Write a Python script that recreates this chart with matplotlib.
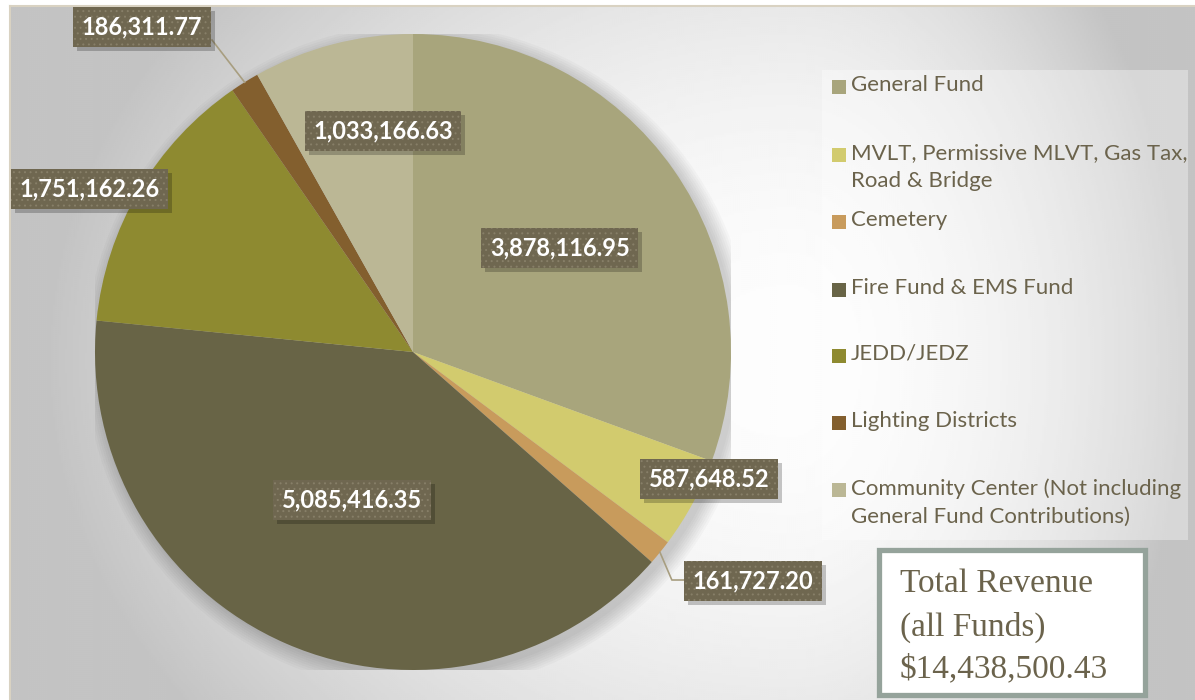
import numpy as np
import matplotlib.pyplot as plt
from matplotlib.patches import Rectangle, Circle
from matplotlib.transforms import IdentityTransform

funds = ['General Fund',
         'MVLT, Permissive MLVT, Gas Tax,\nRoad & Bridge',
         'Cemetery',
         'Fire Fund & EMS Fund',
         'JEDD/JEDZ',
         'Lighting Districts',
         'Community Center (Not including\nGeneral Fund Contributions)']
revenue = [3878116.95, 587648.52, 161727.20, 5085416.35, 1751162.26, 186311.77, 1033166.63]
colors = ['#A8A57C', '#D2CB6E', '#C89B5C', '#686446', '#8E8A30', '#835F2E', '#BBB795']
total_lines = ['Total Revenue', '(all Funds)', '$14,438,500.43']

# label centres in pie data units (radius = 1)
label_pos = [(0.462, 0.327), (0.931, -0.399), (1.069, -0.720), (-0.192, -0.465),
             (-1.016, 0.513), (-0.852, 1.022), (-0.094, 0.695)]

W, H = 1195, 700
txt_col = '#6B634C'
plt.rcParams['hatch.linewidth'] = 0.7

fig = plt.figure(figsize=(W / 100, H / 100), dpi=100)


def fx(x):
    return x / W


def fy(y):
    return 1 - y / H


# gradient background of the chart area
bg = fig.add_axes([fx(10), 0, 1 - fx(10), fy(6)])
yy, xx = np.mgrid[6:700:2, 10:1195:2]
dx = xx - 790.0
dx = np.where(dx < 0, dx / 760, dx / 400)
dy = (yy - 360.0) / 600
d = np.hypot(dx, dy)
g = np.clip(253 - 60 * d ** 2, 196, 255) / 255
bg.imshow(g, cmap='gray', vmin=0, vmax=1, aspect='auto', interpolation='bilinear',
          extent=(10, 1195, 700, 6))
bg.set_xticks([])
bg.set_yticks([])
for side in ['right', 'bottom']:
    bg.spines[side].set_visible(False)
for side in ['top', 'left']:
    bg.spines[side].set_color('#D9D2C2')
    bg.spines[side].set_linewidth(1.5)

# lighter legend panel
fig.patches.append(Rectangle((fx(822), fy(540)), 366 / W, 470 / H, transform=fig.transFigure,
                             fc='white', ec='none', alpha=0.35))

# pie
ax = fig.add_axes([fx(95), fy(670), 636 / W, 636 / H])
ax.patch.set_visible(False)
for i in range(8):
    ax.add_patch(Circle((0.018, -0.018), 1.0 + 0.007 * i, color='black', alpha=0.025, lw=0, zorder=0))
wedges, _ = ax.pie(revenue, colors=colors, startangle=90, counterclock=False, radius=1,
                   wedgeprops=dict(linewidth=0))
ax.set_xlim(-1, 1)
ax.set_ylim(-1, 1)
ax.axis('off')


def edge_point(w):
    a = np.deg2rad((w.theta1 + w.theta2) / 2)
    return np.cos(a), np.sin(a)


# leader lines
ex, ey = edge_point(wedges[5])
ax.plot([ex, -0.632], [ey, 0.981], color='#A89E80', lw=1.2, clip_on=False, zorder=3)
ex, ey = edge_point(wedges[2])
ax.plot([ex, 0.814, 0.86], [ey, -0.717, -0.717], color='#A89E80', lw=1.2, clip_on=False, zorder=3)

labels = []
for v, (x, y) in zip(revenue, label_pos):
    t = ax.text(x, y, f'{v:,.2f}', ha='center', va='center', fontsize=17, fontweight='bold',
                family='Lato', color='white', zorder=5,
                bbox=dict(boxstyle='square,pad=0.36', fc='#6F6750', ec='#877F68', lw=0, hatch='...'))
    labels.append(t)

# drop shadows behind the label boxes
fig.canvas.draw()
r = fig.canvas.get_renderer()
for t in labels:
    bb = t.get_bbox_patch().get_window_extent(r)
    ax.add_patch(Rectangle((bb.x0 + 4, bb.y0 - 4), bb.width, bb.height, transform=IdentityTransform(),
                           fc='black', ec='none', alpha=0.22, zorder=4, clip_on=False))

# legend
leg_y = [87, 155, 222, 290, 356, 423, 490]
for name, c, y in zip(funds, colors, leg_y):
    fig.patches.append(Rectangle((fx(832), fy(y + 7)), 14 / W, 14 / H, transform=fig.transFigure,
                                 fc=c, ec='none'))
    fig.text(fx(851), fy(y - 12), name, ha='left', va='top', fontsize=16, family='Lato',
             color=txt_col, linespacing=1.5)

# total revenue box
fig.patches.append(Rectangle((fx(879), fy(695)), 266 / W, 145 / H, transform=fig.transFigure,
                             fc='white', ec='#95A39B', lw=3.8))
for line, y in zip(total_lines, [584, 627, 669]):
    fig.text(fx(900), fy(y), line, ha='left', va='center', fontsize=24,
             family='Liberation Serif', color=txt_col)

fig.savefig('out.png', dpi=100)
